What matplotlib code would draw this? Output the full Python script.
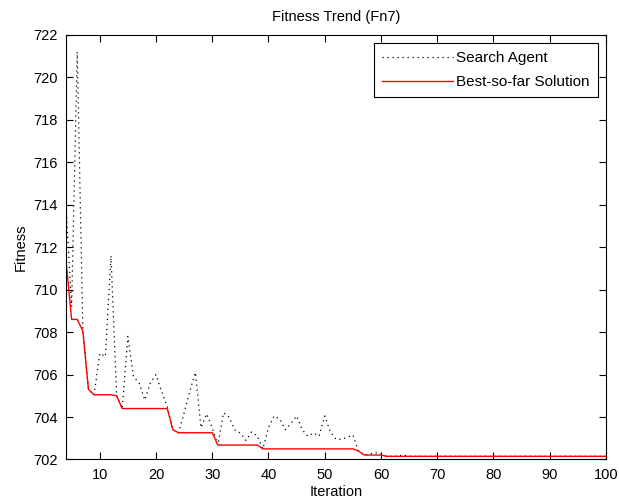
import matplotlib
matplotlib.use('Agg')
import matplotlib.pyplot as plt

# iterations shown on the axis
iteration = list(range(4, 101))

# fitness of the search agent at every iteration
search_agent = [
    713.9, 709.2, 721.2, 708.1, 705.3, 705.05, 707.0, 706.85, 711.6, 705.0,   # 4-13
    704.4, 707.8, 705.9, 705.6, 704.8, 705.6, 706.0, 705.2, 704.5, 703.4,     # 14-23
    703.26, 704.2, 705.2, 706.1, 703.5, 704.15, 703.5, 702.68, 704.2, 704.0,  # 24-33
    703.4, 703.25, 702.9, 703.3, 703.1, 702.5, 703.5, 704.05, 703.9, 703.4,   # 34-43
    703.7, 704.05, 703.4, 703.1, 703.25, 703.1, 704.05, 703.3, 702.95, 702.95,  # 44-53
    703.05, 703.15, 702.4, 702.21, 702.26, 702.32, 702.25, 702.15, 702.15, 702.16,  # 54-63
    702.22, 702.15, 702.15, 702.15, 702.15, 702.15, 702.15, 702.15, 702.15, 702.15,  # 64-73
    702.15, 702.15, 702.15, 702.15, 702.15, 702.15, 702.15, 702.15, 702.15, 702.15,  # 74-83
    702.15, 702.15, 702.15, 702.15, 702.15, 702.15, 702.15, 702.15, 702.15, 702.15,  # 84-93
    702.15, 702.15, 702.15, 702.15, 702.15, 702.15, 702.15,                      # 94-100
]

# best-so-far fitness
best_so_far = [
    711.4, 708.6, 708.6, 708.05, 705.3, 705.05, 705.05, 705.05, 705.05, 705.0,  # 4-13
    704.4, 704.4, 704.4, 704.4, 704.4, 704.4, 704.4, 704.4, 704.4, 703.4,      # 14-23
    703.26, 703.26, 703.26, 703.26, 703.26, 703.26, 703.26, 702.68, 702.68, 702.68,  # 24-33
    702.68, 702.68, 702.68, 702.68, 702.68, 702.5, 702.5, 702.5, 702.5, 702.5,  # 34-43
    702.5, 702.5, 702.5, 702.5, 702.5, 702.5, 702.5, 702.5, 702.5, 702.5,      # 44-53
    702.5, 702.5, 702.4, 702.21, 702.21, 702.21, 702.21, 702.15, 702.15, 702.15,  # 54-63
    702.15, 702.15, 702.15, 702.15, 702.15, 702.15, 702.15, 702.15, 702.15, 702.15,  # 64-73
    702.15, 702.15, 702.15, 702.15, 702.15, 702.15, 702.15, 702.15, 702.15, 702.15,  # 74-83
    702.15, 702.15, 702.15, 702.15, 702.15, 702.15, 702.15, 702.15, 702.15, 702.15,  # 84-93
    702.15, 702.15, 702.15, 702.15, 702.15, 702.15, 702.15,                      # 94-100
]

x_ticks = [10, 20, 30, 40, 50, 60, 70, 80, 90, 100]
y_ticks = [702, 704, 706, 708, 710, 712, 714, 716, 718, 720, 722]

plt.rcParams['font.family'] = ['Liberation Sans', 'DejaVu Sans']
plt.rcParams['font.size'] = 10.5

fig = plt.figure(figsize=(6.19, 5.04), dpi=100)
ax = fig.add_axes([0.1066, 0.0883, 0.8724, 0.8423])

ax.plot(iteration, search_agent, color='black', linestyle=(0, (1, 3)),
        linewidth=0.9, label='Search Agent')
ax.plot(iteration, best_so_far, color='red', linewidth=1.0,
        label='Best-so-far Solution')

ax.set_xlim(4, 100)
ax.set_ylim(702, 722)
ax.set_xticks(x_ticks)
ax.set_yticks(y_ticks)
ax.tick_params(direction='in', length=5, width=0.8, top=True, right=True, pad=6)
for s in ax.spines.values():
    s.set_linewidth(0.8)

ax.set_title('Fitness Trend (Fn7)', fontsize=10.5, pad=10)
ax.set_xlabel('Iteration', labelpad=2)
ax.set_ylabel('Fitness', labelpad=4)

leg = ax.legend(loc='upper right', fancybox=False, framealpha=1,
                edgecolor='black', borderaxespad=0.5, handlelength=4.6,
                handletextpad=0.25, borderpad=0.55, labelspacing=0.65,
                fontsize=11)
leg.get_frame().set_linewidth(0.8)

fig.savefig('out.png', dpi=100)
